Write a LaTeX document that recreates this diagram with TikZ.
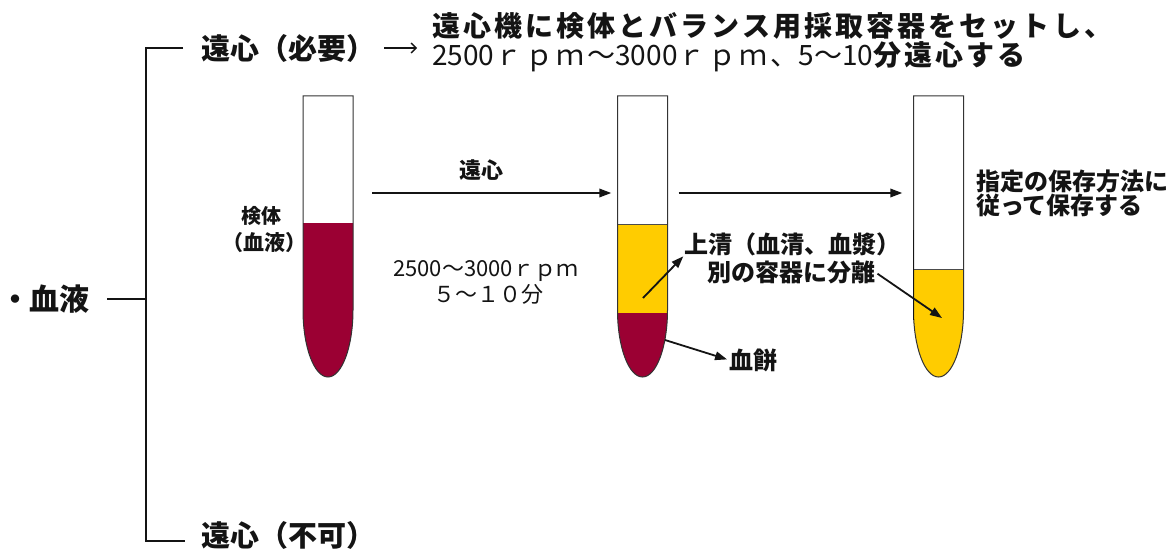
\documentclass[tikz,border=0pt]{standalone}
\usepackage{fontspec}
\newfontfamily\jp{Noto Sans CJK JP}
\newfontfamily\jpwide{Noto Sans CJK JP}[LetterSpace=11]
\usetikzlibrary{arrows.meta}

\definecolor{blood}{RGB}{155,0,51}
\definecolor{serum}{RGB}{255,204,0}
\definecolor{ink}{RGB}{20,20,20}

% outline of a test tube centred on x = #1 (closed top, rounded bottom)
\newcommand\tubeoutline[1]{(#1-25,96) -- (#1-25,310)
  .. controls (#1-25,347) and (#1-13.8,377) .. (#1,377)
  .. controls (#1+13.8,377) and (#1+25,347) .. (#1+25,310)
  -- (#1+25,96) -- cycle}

\newcommand\jpfs[1]{\jp\fontsize{#1}{#1}\selectfont}
\newcommand\jpwfs[1]{\jpwide\fontsize{#1}{#1}\selectfont}

\tikzset{
  lbl/.style={inner sep=0pt, outer sep=0pt, text=ink},
  bracket/.style={draw=ink, line width=2pt},
  flow/.style={draw=ink, line width=1.8pt, -{Triangle[length=12pt,width=8.5pt]}},
  thinarrow/.style={draw=ink, line width=1.3pt, -{Straight Barb[length=5pt,width=10pt]}},
  tubeline/.style={draw=black!80, line width=1pt},
  surface/.style={draw=black!70, line width=0.8pt},
  tubebox/.style={inner sep=0pt, minimum width=50pt, minimum height=281pt, draw=none},
}

\begin{document}
\begin{tikzpicture}[x=1pt, y=-1pt]
\useasboundingbox (0,0) rectangle (1171,551);
\fill[white] (0,0) rectangle (1171,551);

% ---- tree on the left
\node[lbl, anchor=west, font=\jpfs{30}\bfseries] (blood) at (0,299) {・血液};
\node[lbl, anchor=west, font=\jpfs{29}\bfseries] (need) at (201,48) {遠心（必要）};
\node[lbl, anchor=west, font=\jpfs{29}\bfseries] (nogo) at (201,535) {遠心（不可）};
\coordinate (bt) at (146,48);
\coordinate (bb) at (146,541);
\draw[bracket] ([xshift=-18pt]need.west) -- (bt) -- (bb) -- ([xshift=-16pt]nogo.west |- bb);
\draw[bracket] ([xshift=17pt]blood.east) -- (blood.east -| bt);

% ---- centrifuge instructions
\node[lbl, anchor=west, font=\jpwfs{28}\bfseries] (inst1) at (432,26)
  {遠心機に検体とバランス用採取容器をセットし、};
\node[lbl, anchor=west, font=\jpwfs{28}\bfseries] (inst2) at (432,57)
  {{\mdseries{\jp 2500}ｒｐｍ～{\jp 3000}ｒｐｍ、{\jp 5}～{\jp 10}}分遠心する};
\coordinate (needtip) at (417,48);
\draw[thinarrow] ([xshift=9pt]need.east) -- (needtip);

% ---- tube 1 : whole blood
\begin{scope}
  \clip \tubeoutline{328};
  \fill[white] (300,90) rectangle (360,380);
  \fill[blood] (300,223) rectangle (360,380);
\end{scope}
\draw[tubeline] \tubeoutline{328};
\node[tubebox] (t1) at (328,236.5) {};

% ---- tube 2 : separated
\begin{scope}
  \clip \tubeoutline{642.5};
  \fill[white] (610,90) rectangle (675,380);
  \fill[serum] (610,224) rectangle (675,313);
  \fill[blood] (610,313) rectangle (675,380);
\end{scope}
\draw[surface] (617.5,224) -- (667.5,224);
\draw[tubeline] \tubeoutline{642.5};
\node[tubebox] (t2) at (642.5,236.5) {};

% ---- tube 3 : supernatant only
\begin{scope}
  \clip \tubeoutline{938.5};
  \fill[white] (905,90) rectangle (970,380);
  \fill[serum] (905,269) rectangle (970,380);
\end{scope}
\draw[surface] (913.5,269) -- (963.5,269);
\draw[tubeline] \tubeoutline{938.5};
\draw[draw=ink, line width=1.8pt] (913.5,230) -- (913.5,320);
\node[tubebox] (t3) at (938.5,236.5) {};

% ---- process arrows between tubes
\coordinate (row) at (0,193);
\draw[flow, shorten <=19pt, shorten >=6pt] (t1.east |- row) -- (t2.west |- row);
\draw[flow, shorten <=11pt, shorten >=11pt] (t2.east |- row) -- (t3.west |- row);

\node[lbl, font=\jpfs{22}\bfseries] (spin) at (481,170) {遠心};
\node[lbl, font=\jpfs{20}\bfseries] (spec) at (261,216) {検体};
\node[lbl, font=\jpfs{21}\bfseries] (specb) at (264,243) {（血液）};
\node[lbl, font=\jpfs{22}] (rpm) at (486,271) {2500～3000ｒｐｍ};
\node[lbl, font=\jpfs{22}] (mins) at (488,294) {５～１０分};

% ---- annotations
\node[lbl, anchor=west, font=\jpfs{24}\bfseries] (sup) at (684,244) {上清（血清、血漿）};
\node[lbl, anchor=west, font=\jpfs{24}\bfseries] (sep) at (707,272) {別の容器に分離};
\node[lbl, anchor=west, font=\jpfs{24}\bfseries] (clot) at (729,360) {血餅};
\node[lbl, anchor=west, font=\jpfs{24}\bfseries] (keep1) at (976,181) {指定の保存方法に};
\node[lbl, anchor=west, font=\jpfs{24}\bfseries] (keep2) at (976,205) {従って保存する};

\coordinate (supin) at (643,298);
\coordinate (sepin) at (942,318);
\coordinate (clotin) at (665,340);
\draw[flow, shorten >=1pt] (supin) -- (sup.south west);
\draw[flow, shorten <=3pt] (sep.east) -- (sepin);
\draw[flow, shorten >=2pt] (clotin) -- (clot.west);
\end{tikzpicture}
\end{document}
